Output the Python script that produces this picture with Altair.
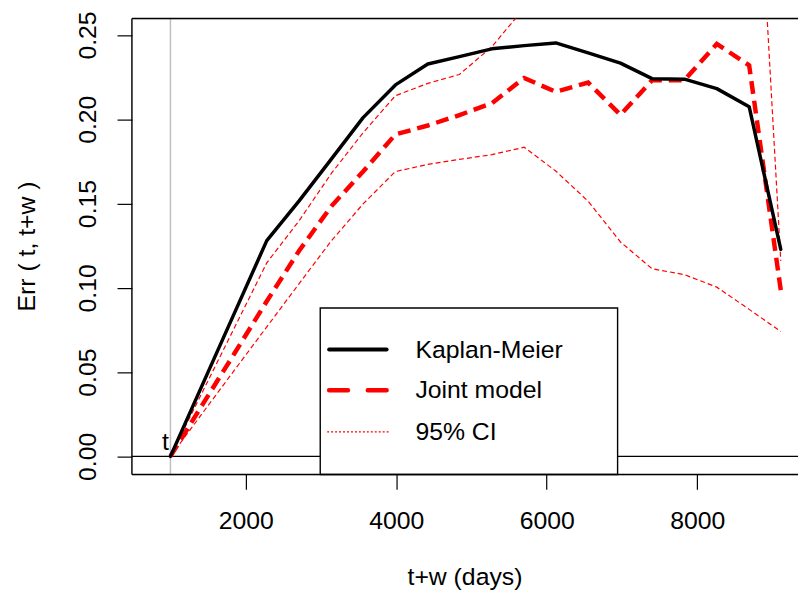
import altair as alt
import pandas as pd

# ---- data ----
times = [1000, 1430, 1850, 2280, 2710, 3140, 3560, 3990, 4420, 4840,
         5270, 5700, 6120, 6550, 6980, 7400, 7830, 8260, 8690, 9110]
km = [0.0, 0.043, 0.085, 0.128, 0.1516, 0.1765, 0.201, 0.2204, 0.2328, 0.2372,
      0.2418, 0.2437, 0.2453, 0.2394, 0.2333, 0.2241, 0.2238, 0.2182, 0.2075, 0.1228]
jm = [0.0, 0.031, 0.061, 0.092, 0.122, 0.1485, 0.169, 0.191, 0.1963, 0.2025,
      0.2095, 0.2245, 0.2163, 0.2218, 0.2026, 0.2232, 0.2232, 0.2447, 0.232, 0.0986]
ci_upper = [0.0, 0.0386, 0.0763, 0.1148, 0.1398, 0.168, 0.192, 0.214, 0.2213, 0.2266,
            0.243, 0.266, 0.29, 0.31, 0.33, 0.35, 0.37, 0.40, 0.45, 0.116]
ci_lower = [0.0, 0.0259, 0.0511, 0.0768, 0.1025, 0.128, 0.1498, 0.169, 0.1732, 0.1762,
            0.179, 0.1834, 0.1693, 0.1514, 0.1272, 0.1113, 0.1078, 0.1004, 0.0872, 0.0741]
x_ticks = [2000, 4000, 6000, 8000]
y_ticks = [0.0, 0.05, 0.10, 0.15, 0.20, 0.25]
legend_labels = ["Kaplan-Meier", "Joint model", "95% CI"]
t_mark = 1000
x_title = "t+w (days)"
y_title = "Err ( t, t+w )"

W, H = 672, 460
X_DOMAIN = [488, 9339]
Y_DOMAIN = [-0.01076, 0.2598]
FONT = "Liberation Sans"
FS = 25

df = pd.DataFrame({"t": times, "km": km, "jm": jm, "up": ci_upper, "lo": ci_lower})
one = pd.DataFrame({"a": [0]})

xs = alt.Scale(domain=X_DOMAIN, nice=False, zero=False)
ys = alt.Scale(domain=Y_DOMAIN, nice=False, zero=False)

xaxis = alt.Axis(values=x_ticks, format="d", domain=False, grid=False, ticks=True,
                 tickSize=15, tickColor="black", tickWidth=1.2,
                 labelColor="black", labelFont=FONT, labelFontSize=FS,
                 labelBaseline="middle", labelPadding=32, title=None)
yaxis = alt.Axis(values=y_ticks, format=".2f", domain=False, grid=False, ticks=True,
                 tickSize=15, tickColor="black", tickWidth=1.2,
                 labelColor="black", labelFont=FONT, labelFontSize=FS,
                 labelAngle=-90, labelAlign="center", labelBaseline="middle",
                 labelPadding=30, title=None)


def X(field=None, datum=None):
    if datum is not None:
        return alt.X(datum=datum, scale=xs, axis=xaxis)
    return alt.X(field, scale=xs, axis=xaxis)


def Y(field=None, datum=None):
    if datum is not None:
        return alt.Y(datum=datum, scale=ys, axis=yaxis)
    return alt.Y(field, scale=ys, axis=yaxis)


base = alt.Chart(df)

km_line = base.mark_line(color="black", strokeWidth=3.5, clip=True,
                         strokeCap="round", strokeJoin="round").encode(
    x=X("t:Q"), y=Y("km:Q"))
jm_line = base.mark_line(color="#FF0000", strokeWidth=4.5, strokeDash=[13, 7],
                         clip=True).encode(x=X("t:Q"), y=Y("jm:Q"))
up_line = base.mark_line(color="#FF0000", strokeWidth=1.2, strokeDash=[5, 3],
                         clip=True).encode(x=X("t:Q"), y=Y("up:Q"))
lo_line = base.mark_line(color="#FF0000", strokeWidth=1.2, strokeDash=[5, 3],
                         clip=True).encode(x=X("t:Q"), y=Y("lo:Q"))

vline = alt.Chart(one).mark_rule(color="#BEBEBE", strokeWidth=1.5).encode(
    x=X(datum=t_mark))
hline = alt.Chart(one).mark_rule(color="black", strokeWidth=1.2).encode(
    y=Y(datum=0))

t_text = alt.Chart(one).mark_text(text="t", font=FONT, fontSize=FS, color="black",
                                  align="center", baseline="middle", dx=-5, dy=-14).encode(
    x=X(datum=t_mark), y=Y(datum=0))

# frame (top, left, bottom)
frame_top = alt.Chart(one).mark_rule(color="black", strokeWidth=1.4).encode(
    x=alt.value(0), x2=alt.value(W), y=alt.value(0))
frame_left = alt.Chart(one).mark_rule(color="black", strokeWidth=1.4).encode(
    x=alt.value(0), y=alt.value(0), y2=alt.value(H))
frame_bottom = alt.Chart(one).mark_rule(color="black", strokeWidth=1.4).encode(
    x=alt.value(0), x2=alt.value(W), y=alt.value(H))

# legend
leg_box = alt.Chart(one).mark_rect(fill="white", stroke="black", strokeWidth=1.4).encode(
    x=alt.value(190), x2=alt.value(490), y=alt.value(292), y2=alt.value(H))
LX1, LX2, LTX = 199, 257, 286
LY = [334, 375, 417]
leg_km = alt.Chart(one).mark_rule(color="black", strokeWidth=4, strokeCap="round").encode(
    x=alt.value(LX1), x2=alt.value(LX2), y=alt.value(LY[0]))
leg_jm = alt.Chart(one).mark_rule(color="#FF0000", strokeWidth=4.5,
                                  strokeDash=[19, 20], strokeCap="round").encode(
    x=alt.value(LX1), x2=alt.value(LX2), y=alt.value(LY[1]))
leg_ci = alt.Chart(one).mark_rule(color="#FF0000", strokeWidth=1.2,
                                  strokeDash=[2, 2]).encode(
    x=alt.value(LX1 - 2), x2=alt.value(LX2 + 2), y=alt.value(LY[2]))
leg_df = pd.DataFrame({"label": legend_labels, "ypix": LY})
leg_text = alt.Chart(leg_df).mark_text(font=FONT, fontSize=FS, color="black",
                                       align="left", baseline="middle").encode(
    x=alt.value(LTX), y=alt.Y("ypix:Q", scale=None, axis=None),
    text="label:N")

# axis titles
xt = alt.Chart(one).mark_text(text=x_title, font=FONT, fontSize=FS, color="black",
                              align="center", baseline="middle").encode(
    x=alt.value(W / 2), y=alt.value(564))
yt = alt.Chart(one).mark_text(text=y_title, font=FONT, fontSize=FS, color="black",
                              align="center", baseline="middle", angle=270).encode(
    x=alt.value(-106), y=alt.value(230))

chart = alt.layer(
    vline, hline, leg_box, frame_top, frame_left, frame_bottom,
    lo_line, up_line, jm_line, km_line, t_text,
    leg_km, leg_jm, leg_ci, leg_text, xt, yt
).properties(
    width=W, height=H,
    padding={"left": 125, "top": 8, "right": 0, "bottom": 119},
    autosize=alt.AutoSizeParams(type="none"),
).configure_view(stroke=None).configure(background="white")

chart.save("out.html", embed_options={"renderer": "svg", "actions": False})
